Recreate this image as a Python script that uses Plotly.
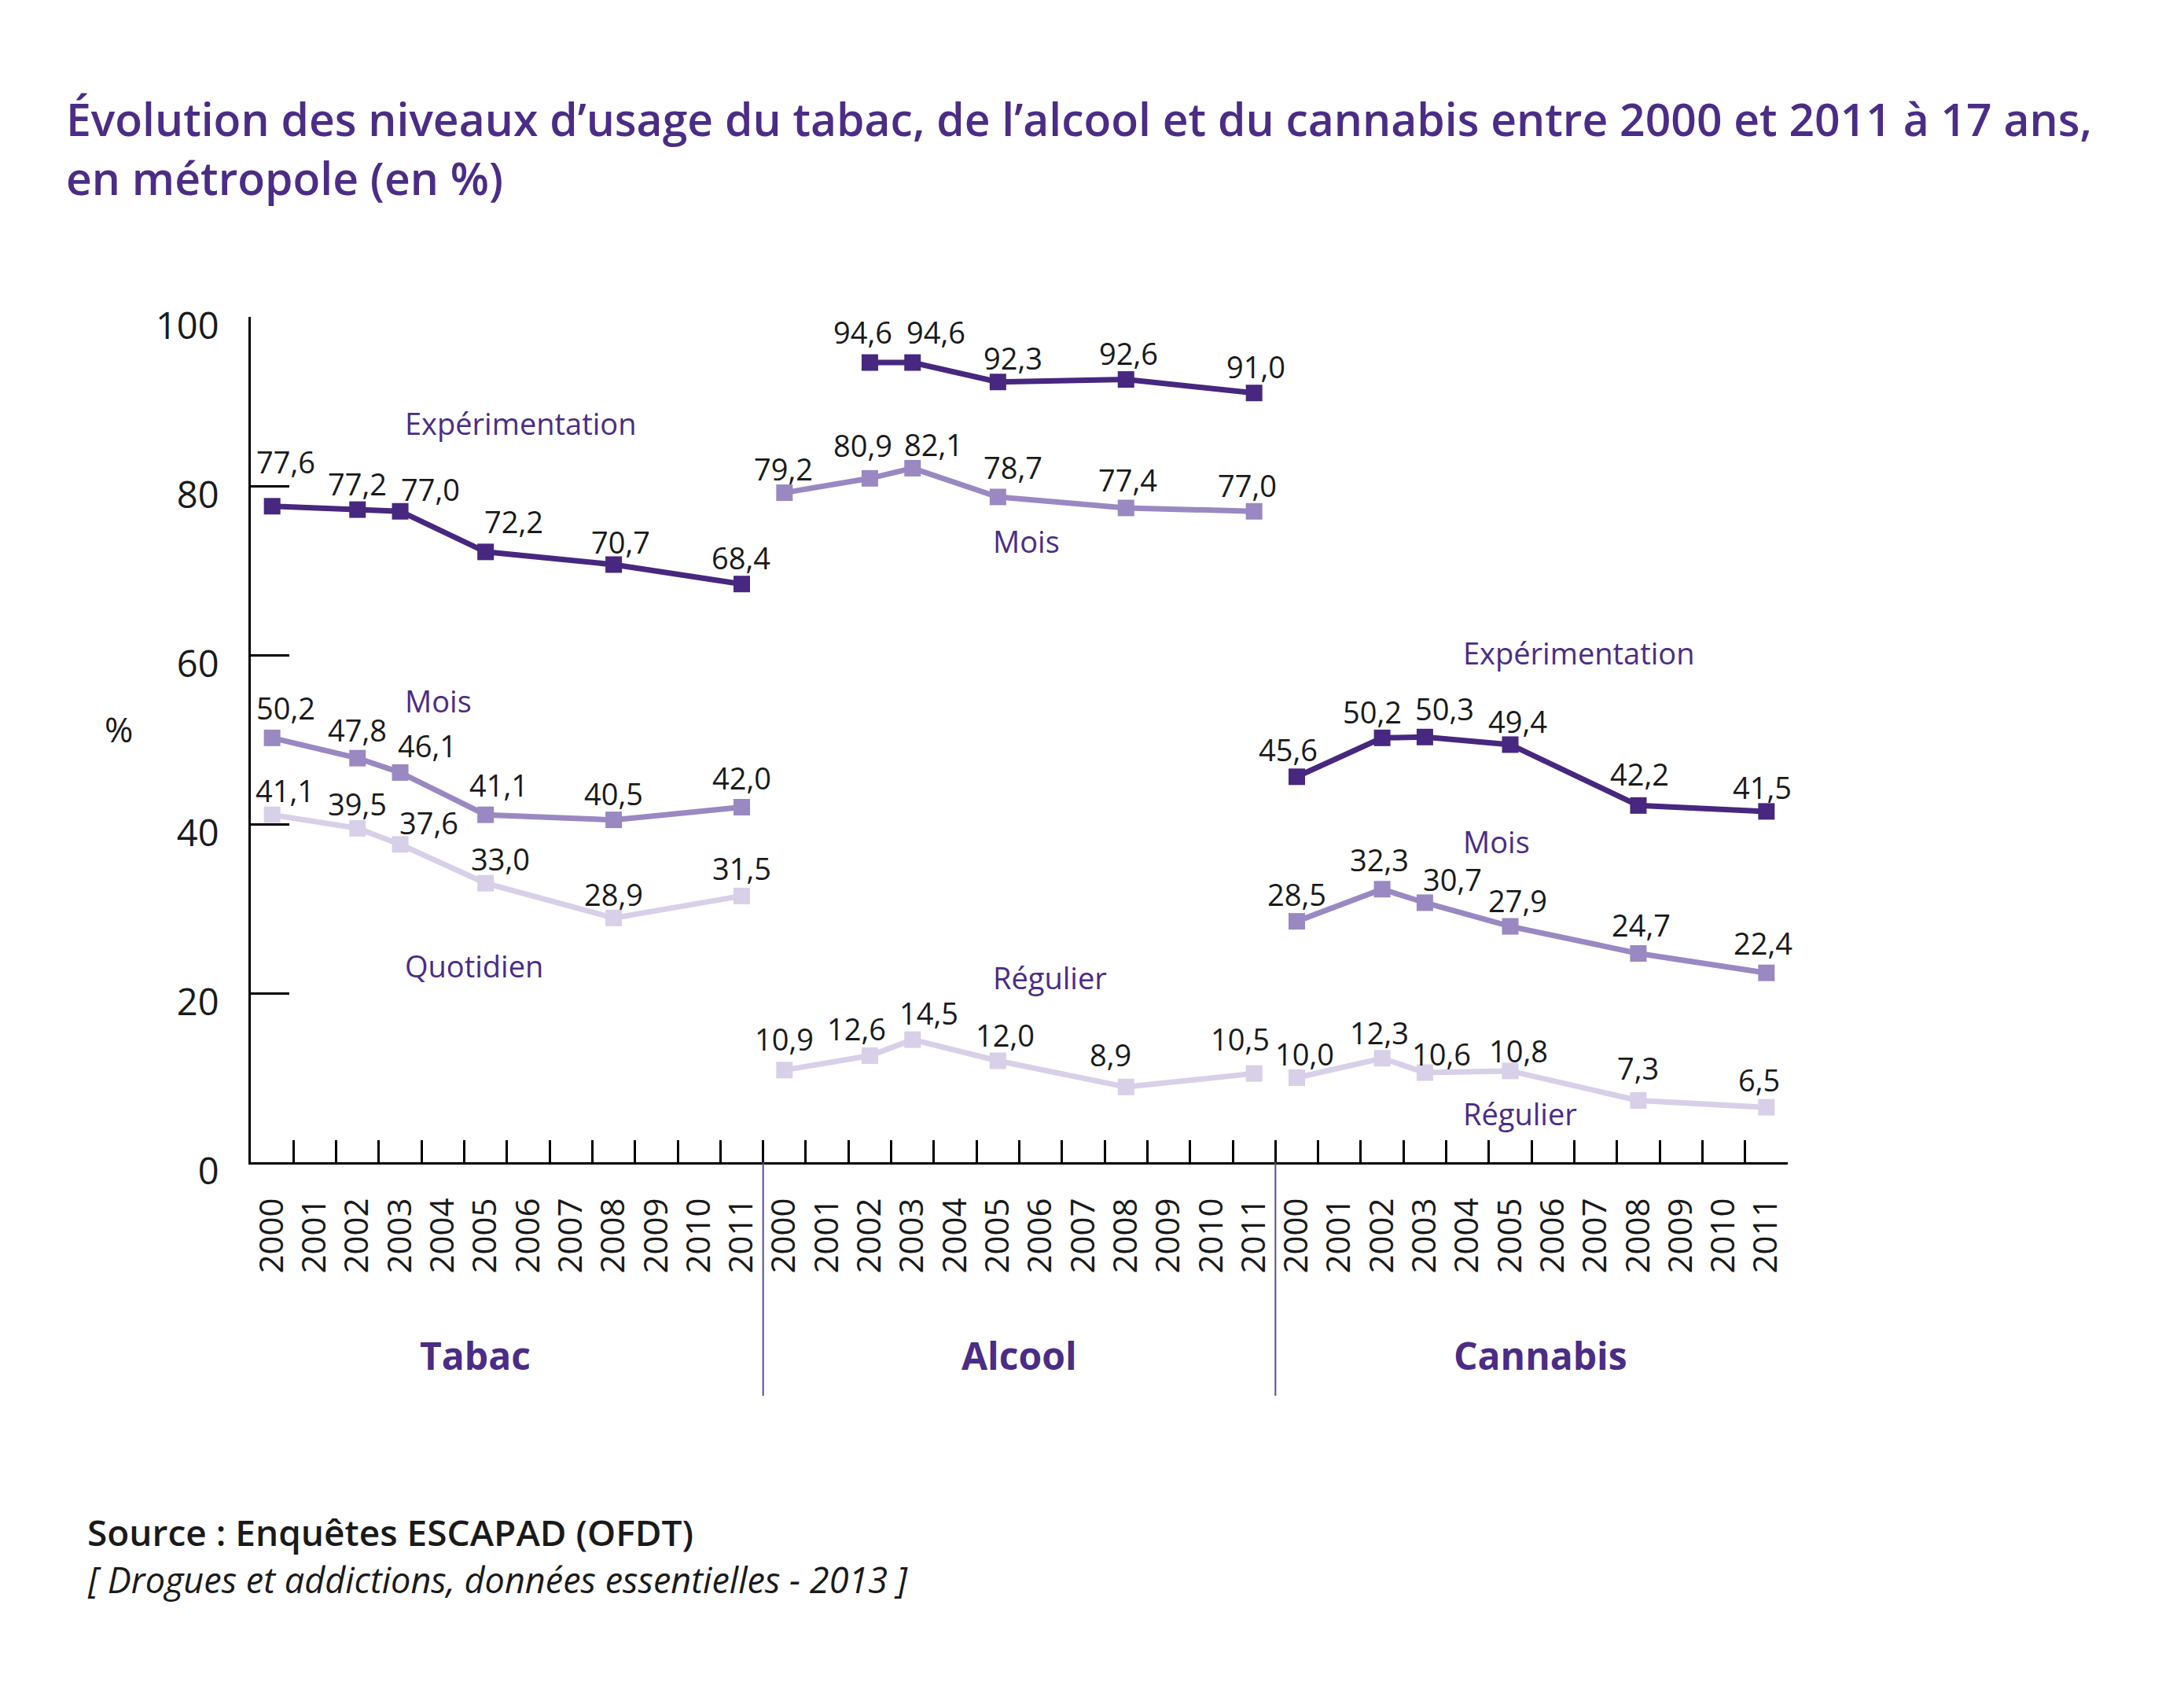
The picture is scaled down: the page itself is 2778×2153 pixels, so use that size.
import plotly.graph_objects as go

# ---------------- data ----------------
groups = ["Tabac", "Alcool", "Cannabis"]
year_labels = [str(y) for y in range(2000, 2012)]
survey_years = [2000, 2002, 2003, 2005, 2008, 2011]

tabac_exp = [77.6, 77.2, 77.0, 72.2, 70.7, 68.4]
tabac_mois = [50.2, 47.8, 46.1, 41.1, 40.5, 42.0]
tabac_quot = [41.1, 39.5, 37.6, 33.0, 28.9, 31.5]

alcool_exp_years = [2002, 2003, 2005, 2008, 2011]
alcool_exp = [94.6, 94.6, 92.3, 92.6, 91.0]
alcool_mois = [79.2, 80.9, 82.1, 78.7, 77.4, 77.0]
alcool_reg = [10.9, 12.6, 14.5, 12.0, 8.9, 10.5]

cannabis_exp = [45.6, 50.2, 50.3, 49.4, 42.2, 41.5]
cannabis_mois = [28.5, 32.3, 30.7, 27.9, 24.7, 22.4]
cannabis_reg = [10.0, 12.3, 10.6, 10.8, 7.3, 6.5]

y_ticks = [0, 20, 40, 60, 80, 100]

# ---------------- style ----------------
C_EXP = "#47277f"
C_MOIS = "#9a88c2"
C_LIGHT = "#d8cfe8"
C_TEXT = "#4b2c86"
C_NUM = "#1a1a1a"
FONT = "Open Sans"

W, H = 2778, 2153
OFF = 8  # default page margin of the html body
L, R, T, B = 319 - OFF, 2274 - OFF, 403 - OFF, 1478 - OFF


def px_x(X):
    return (X - OFF - L) / (R - L)


def px_y(Y):
    return (B - (Y - OFF)) / (B - T)


def pos(group_idx, years):
    return [group_idx * 12 + (y - 2000) for y in years]


def fmt(v):
    return f"{v:.1f}".replace(".", ",")


# label offsets (pixels, from marker centre to label centre)
series = [
    (0, survey_years, tabac_exp, C_EXP,
     [17, 0, 38, 36, 9, -1], [-57, -33, -28, -39, -29, -34]),
    (0, survey_years, tabac_mois, C_MOIS,
     [17, 0, 34, 17, 0, 0], [-38, -36, -34, -38, -34, -38]),
    (0, survey_years, tabac_quot, C_LIGHT,
     [16, 0, 36, 19, 0, 0], [-31, -31, -28, -31, -30, -35]),
    (1, alcool_exp_years, alcool_exp, C_EXP,
     [-9, 30, 19, 3, 2], [-39, -39, -31, -34, -34]),
    (1, survey_years, alcool_mois, C_MOIS,
     [-1, -9, 27, 19, 2, -9], [-31, -42, -30, -38, -36, -33]),
    (1, survey_years, alcool_reg, C_LIGHT,
     [0, -17, 21, 9, -20, -18], [-40, -35, -34, -33, -41, -44]),
    (2, survey_years, cannabis_exp, C_EXP,
     [-11, -13, 25, 9, 2, -5], [-35, -33, -36, -30, -40, -31]),
    (2, survey_years, cannabis_mois, C_MOIS,
     [0, -4, 35, 9, 4, -4], [-35, -38, -30, -33, -36, -38]),
    (2, survey_years, cannabis_reg, C_LIGHT,
     [10, -4, 21, 10, 0, -9], [-31, -33, -24, -26, -42, -35]),
]

fig = go.Figure()
ann = []

for g, yrs, vals, col, dxs, dys in series:
    xs = pos(g, yrs)
    fig.add_trace(go.Scatter(
        x=xs, y=vals,
        mode="lines+markers",
        line=dict(color=col, width=7),
        marker=dict(symbol="square", size=21, color=col),
        cliponaxis=False,
        showlegend=False,
        hoverinfo="skip",
    ))
    for xv, v, dx, dy in zip(xs, vals, dxs, dys):
        ann.append(dict(text=fmt(v), x=xv, y=v, xref="x", yref="y",
                        xanchor="center", yanchor="middle", xshift=dx, yshift=-dy,
                        showarrow=False, font=dict(family=FONT, size=38, color=C_NUM)))

# empty trace to hold the year-label axis
fig.add_trace(go.Scatter(x=[], y=[], xaxis="x2", showlegend=False, hoverinfo="skip"))

centers = list(range(36))
boundaries = [i + 0.5 for i in range(36)]

fig.update_layout(
    width=W, height=H,
    paper_bgcolor="white", plot_bgcolor="white",
    margin=dict(l=L, r=W - R, t=T, b=H - B, pad=0),
    xaxis=dict(
        range=[-0.5, 35.5], showgrid=False, zeroline=False,
        showline=True, linecolor="black", linewidth=3,
        tickmode="array", tickvals=boundaries, ticktext=[""] * 36,
        ticks="inside", ticklen=28, tickwidth=2.5, tickcolor="black",
        showticklabels=False,
    ),
    xaxis2=dict(
        overlaying="x", anchor="y", side="bottom",
        range=[-0.5, 35.5], showgrid=False, zeroline=False, showline=False,
        tickmode="array", tickvals=centers, ticktext=year_labels * 3,
        ticks="", tickangle=-90, ticklabelstandoff=36,
        tickfont=dict(family=FONT, size=42, color=C_NUM),
    ),
    yaxis=dict(
        range=[0, 100], showgrid=False, zeroline=False,
        showline=True, linecolor="black", linewidth=3,
        tickmode="array", tickvals=y_ticks,
        ticks="inside", ticklen=49, tickwidth=2.5, tickcolor="black",
        ticklabelstandoff=28, ticklabelshift=12,
        tickfont=dict(family=FONT, size=47, color=C_NUM),
    ),
)

# title
ann.append(dict(text="Évolution des niveaux d’usage du tabac, de l’alcool et du cannabis entre 2000 et 2011 à 17 ans,",
                x=px_x(82), y=px_y(151), xref="paper", yref="paper", xanchor="left", yanchor="middle",
                showarrow=False, font=dict(family=FONT, size=57, color=C_TEXT, weight=600)))
ann.append(dict(text="en métropole (en %)",
                x=px_x(82), y=px_y(226), xref="paper", yref="paper", xanchor="left", yanchor="middle",
                showarrow=False, font=dict(family=FONT, size=57, color=C_TEXT, weight=600)))
# % label
ann.append(dict(text="%", x=px_x(151), y=51.3, xref="paper", yref="y", xanchor="center", yanchor="middle",
                showarrow=False, font=dict(family=FONT, size=44, color=C_NUM)))
# series labels
series_labels = [
    ("Expérimentation", 3.07, 87.4), ("Mois", 3.07, 54.6), ("Quotidien", 3.07, 23.3),
    ("Expérimentation", 15.86, 104.3), ("Mois", 16.84, 73.5), ("Régulier", 16.84, 21.9),
    ("Expérimentation", 27.85, 60.3), ("Mois", 27.85, 38.0), ("Régulier", 27.85, 5.8),
]
for txt, xv, yv in series_labels:
    ann.append(dict(text=txt, x=xv, y=yv, xref="x", yref="y", xanchor="left", yanchor="middle",
                    showarrow=False, font=dict(family=FONT, size=38, color=C_TEXT)))
# group labels
for txt, xv in zip(groups, [4.75, 17.5, 29.7]):
    ann.append(dict(text=txt, x=xv, y=px_y(1723), xref="x", yref="paper", xanchor="center", yanchor="middle",
                    showarrow=False, font=dict(family=FONT, size=48, color=C_TEXT, weight=700)))
# source
ann.append(dict(text="Source : Enquêtes ESCAPAD (OFDT)", x=px_x(109), y=px_y(1948),
                xref="paper", yref="paper", xanchor="left", yanchor="middle", showarrow=False,
                font=dict(family=FONT, size=46, color=C_NUM, weight=600)))
ann.append(dict(text="<i>[ Drogues et addictions, données essentielles - 2013 ]</i>", x=px_x(109), y=px_y(2008),
                xref="paper", yref="paper", xanchor="left", yanchor="middle", showarrow=False,
                font=dict(family=FONT, size=45, color=C_NUM)))
fig.update_layout(annotations=ann)

# group separators
shapes = []
for xb in [11.5, 23.5]:
    shapes.append(dict(type="line", xref="x", yref="paper", x0=xb, x1=xb, y0=0, y1=px_y(1775),
                       line=dict(color="#5b4a9a", width=2)))
fig.update_layout(shapes=shapes)

fig.write_html("out.html")
